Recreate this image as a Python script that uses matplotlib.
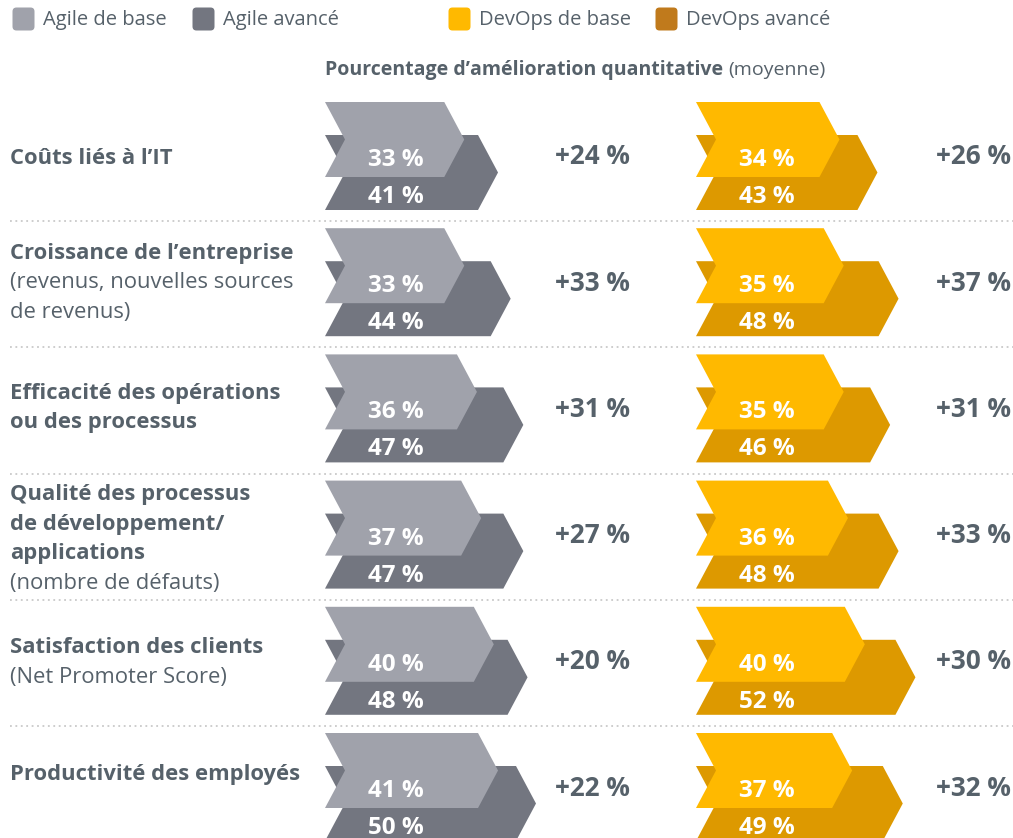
import matplotlib
matplotlib.use("Agg")
import matplotlib.pyplot as plt
from matplotlib.patches import Polygon, FancyBboxPatch

plt.rcParams['font.family'] = ['Open Sans', 'DejaVu Sans']

# --- data ---
categories = [
    ("Coûts liés à l’IT", ""),
    ("Croissance de l’entreprise", "(revenus, nouvelles sources\nde revenus)"),
    ("Efficacité des opérations\nou des processus", ""),
    ("Qualité des processus\nde développement/\napplications", "(nombre de défauts)"),
    ("Satisfaction des clients", "(Net Promoter Score)"),
    ("Productivité des employés", ""),
]
agile_base = [33, 33, 36, 37, 40, 41]
agile_adv = [41, 44, 47, 47, 48, 50]
agile_gain = [24, 33, 31, 27, 20, 22]
devops_base = [34, 35, 35, 36, 40, 37]
devops_adv = [43, 48, 46, 48, 52, 49]
devops_gain = [26, 37, 31, 33, 30, 32]

legend_labels = ["Agile de base", "Agile avancé", "DevOps de base", "DevOps avancé"]

# --- style ---
TXT = "#56616a"
C_AG_B, C_AG_A = "#a0a2ab", "#737680"
C_DV_B, C_DV_A = "#ffb900", "#dd9900"
C_DV_LEG = "#c07a1c"

W, H = 1013, 838
fig = plt.figure(figsize=(W / 100, H / 100), dpi=100)
ax = fig.add_axes([0, 0, 1, 1])
ax.set_xlim(0, W)
ax.set_ylim(H, 0)
ax.axis("off")

scale = 4.22        # px per percent
ch_h, tip = 75, 20  # chevron height and point depth
row_h = 126.2
top0 = 102
adv_shift = 33
label_off = [56, 25, 39, 14, 41, 41]


def chevron(x0, top, val, color):
    L = val * scale
    pts = [(x0, top), (x0 + L - tip, top), (x0 + L, top + ch_h / 2),
           (x0 + L - tip, top + ch_h), (x0, top + ch_h), (x0 + tip, top + ch_h / 2)]
    ax.add_patch(Polygon(pts, closed=True, facecolor=color, edgecolor="none"))


def group(x0, base, adv, gain, gain_x, cb, ca):
    for i in range(len(base)):
        top = top0 + i * row_h
        chevron(x0, top + adv_shift, adv[i], ca)
        chevron(x0, top, base[i], cb)
        ax.text(x0 + 43, top + 58, f"{base[i]} %", color="white", fontsize=17.5,
                fontweight="bold", ha="left", va="center")
        ax.text(x0 + 43, top + adv_shift + 62, f"{adv[i]} %", color="white",
                fontsize=17.5, fontweight="bold", ha="left", va="center")
        ax.text(gain_x, top + 55, f"+{gain[i]} %", color=TXT, fontsize=18.8,
                fontweight="bold", ha="right", va="center")


group(325, agile_base, agile_adv, agile_gain, 630, C_AG_B, C_AG_A)
group(696, devops_base, devops_adv, devops_gain, 1011, C_DV_B, C_DV_A)

# separators
for i in range(1, 6):
    y = top0 + i * row_h - 7
    ax.plot([10, W], [y, y], color="#c9c9c9", lw=1.3, ls=(0, (1, 2)))

# row labels
lh = 29.5
for i, (bold, reg) in enumerate(categories):
    y = top0 + i * row_h + label_off[i]
    nb = bold.count("\n") + 1
    for k, line in enumerate(bold.split("\n")):
        ax.text(10, y + k * lh, line, color=TXT, fontsize=15.8, fontweight="bold",
                ha="left", va="center")
    if reg:
        for k, line in enumerate(reg.split("\n")):
            ax.text(10, y + (nb + k) * lh, line, color=TXT, fontsize=15.8,
                    ha="left", va="center")

# legend
leg_x = [12, 192, 448, 655]
leg_c = [C_AG_B, C_AG_A, C_DV_B, C_DV_LEG]
for x, c, lab in zip(leg_x, leg_c, legend_labels):
    ax.add_patch(FancyBboxPatch((x + 2, 9), 19, 20, boxstyle="round,pad=1.5,rounding_size=4",
                                facecolor=c, edgecolor="none"))
    ax.text(x + 31, 20, lab, color=TXT, fontsize=14.5, ha="left", va="center")

# subtitle
fig.canvas.draw()
r = fig.canvas.get_renderer()
t = ax.text(325, 70, "Pourcentage d’amélioration quantitative", color=TXT,
            fontsize=14, fontweight="bold", ha="left", va="center")
bb = t.get_window_extent(r)
x_end = ax.transData.inverted().transform((bb.x1, bb.y0))[0]
ax.text(x_end + 5, 70, "(moyenne)", color=TXT, fontsize=14, ha="left", va="center")

fig.savefig("out.png", dpi=100)
